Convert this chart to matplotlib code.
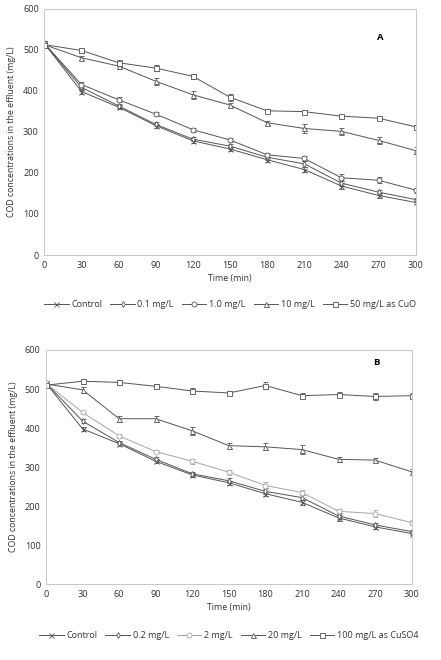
import matplotlib
matplotlib.use("Agg")
import matplotlib.pyplot as plt

plt.rcParams['font.family'] = ['Open Sans', 'DejaVu Sans']

time = [0, 30, 60, 90, 120, 150, 180, 210, 240, 270, 300]

# panel A (CuO)
labels_a = ['Control', '0.1 mg/L', '1.0 mg/L', '10 mg/L', '50 mg/L as CuO']
a_control = [515, 398, 360, 315, 278, 258, 232, 208, 168, 145, 128]
a_01 = [515, 408, 363, 318, 282, 265, 238, 222, 175, 153, 135]
a_10 = [515, 415, 378, 343, 305, 280, 244, 235, 188, 182, 158]
a_100 = [512, 480, 460, 423, 390, 365, 322, 308, 301, 279, 254]
a_500 = [512, 498, 468, 455, 435, 384, 351, 349, 338, 333, 312]
a_err_control = [6, 6, 5, 5, 5, 5, 6, 7, 7, 5, 5]
a_err_01 = [6, 6, 5, 5, 5, 6, 6, 8, 7, 6, 5]
a_err_10 = [6, 7, 6, 4, 5, 6, 5, 7, 8, 7, 6]
a_err_100 = [6, 5, 8, 8, 10, 5, 5, 12, 8, 8, 8]
a_err_500 = [6, 7, 6, 8, 6, 9, 5, 4, 4, 4, 4]

# panel B (CuSO4)
labels_b = ['Control', '0.2 mg/L', '2 mg/L', '20 mg/L', '100 mg/L as CuSO4']
b_control = [515, 398, 360, 315, 280, 260, 232, 210, 170, 147, 130]
b_02 = [515, 418, 363, 320, 283, 265, 238, 222, 175, 152, 135]
b_2 = [515, 440, 380, 340, 315, 287, 253, 235, 187, 181, 158]
b_20 = [513, 498, 424, 424, 393, 355, 352, 345, 320, 318, 288]
b_100 = [510, 520, 517, 507, 495, 490, 509, 483, 486, 481, 483]
b_err_control = [6, 5, 5, 5, 5, 5, 6, 6, 7, 6, 5]
b_err_02 = [6, 6, 5, 5, 5, 6, 8, 7, 7, 6, 5]
b_err_2 = [6, 5, 6, 5, 7, 6, 8, 7, 7, 8, 7]
b_err_20 = [6, 7, 8, 8, 10, 8, 9, 11, 7, 6, 8]
b_err_100 = [6, 7, 7, 5, 7, 4, 8, 6, 7, 9, 7]

markers = ['x', 'd', 'o', '^', 's']
dark = '#555555'
fs = 6.3


def panel(ax, series, errs, labels, colors, letter, ly, leg_y):
    for y, e, lab, m, c in zip(series, errs, labels, markers, colors):
        ax.errorbar(time, y, yerr=e, color=c, lw=0.7, marker=m, ms=3.6 if m != 'd' else 3.0,
                    mfc='white', mec=c, mew=0.6, capsize=1.8, elinewidth=0.6,
                    capthick=0.6, label=lab)
    ax.set_xlim(0, 300)
    ax.set_ylim(0, 600)
    ax.set_xticks(time)
    ax.set_yticks(range(0, 601, 100))
    ax.tick_params(length=0, labelsize=fs + 0.3, colors='#333333', pad=4)
    for s in ax.spines.values():
        s.set_color('#c8c8c8')
        s.set_linewidth(0.7)
    ax.set_xlabel('Time (min)', fontsize=fs, color='#333333', labelpad=3)
    ax.set_ylabel('COD concentrations in the effluent (mg/L)', fontsize=fs,
                  color='#333333', labelpad=5)
    ax.text(271, ly, letter, fontsize=fs + 0.5, fontweight='bold', ha='center', va='center')
    h, l = ax.get_legend_handles_labels()
    h = [x[0] for x in h]
    ax.legend(h, l, loc='center', bbox_to_anchor=(0.5, leg_y), ncol=5, frameon=False,
              fontsize=fs + 0.2, handlelength=2.7, handletextpad=0.3, columnspacing=0.9,
              labelcolor='#333333')


fig = plt.figure(figsize=(4.41, 6.6), dpi=100)
ax1 = fig.add_axes([0.1005, 0.6136, 0.8421, 0.3735])
ax2 = fig.add_axes([0.1043, 0.1147, 0.8293, 0.355])

panel(ax1, [a_control, a_01, a_10, a_100, a_500],
      [a_err_control, a_err_01, a_err_10, a_err_100, a_err_500],
      labels_a, [dark] * 5, 'A', 530, -0.2)
panel(ax2, [b_control, b_02, b_2, b_20, b_100],
      [b_err_control, b_err_02, b_err_2, b_err_20, b_err_100],
      labels_b, [dark, dark, '#a6a6a6', dark, dark], 'B', 567, -0.22)

fig.savefig('out.png', dpi=100, facecolor='white')
